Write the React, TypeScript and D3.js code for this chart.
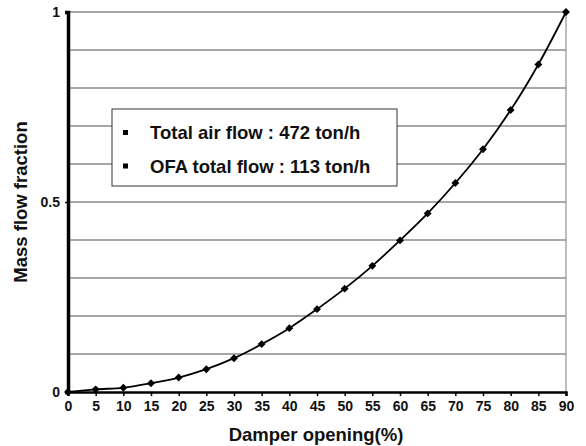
import React, { useEffect, useRef } from 'react'
import * as d3 from 'd3'

const openings = [0, 5, 10, 15, 20, 25, 30, 35, 40, 45, 50, 55, 60, 65, 70, 75, 80, 85, 90]
const fractions = [0, 0.007, 0.011, 0.023, 0.038, 0.06, 0.089, 0.126, 0.168, 0.218, 0.272, 0.332, 0.399, 0.47, 0.55, 0.639, 0.742, 0.862, 1.0]
const yTickLabels = [0, 0.5, 1]
const legendLines = ['Total air flow : 472 ton/h', 'OFA total flow : 113 ton/h']

const W = 586
const H = 446
const margin = { top: 12, right: 20, bottom: 54, left: 68 }
const font = 'Arial, "Liberation Sans", sans-serif'

export default function App() {
    const ref = useRef<SVGSVGElement>(null)

    useEffect(() => {
        const svg = d3.select(ref.current)
        svg.selectAll('*').remove()

        const x = d3.scaleLinear().domain([0, 90]).range([margin.left, W - margin.right])
        const y = d3.scaleLinear().domain([0, 1]).range([H - margin.bottom, margin.top])

        // horizontal grid every 0.1
        svg.append('g')
            .selectAll('line')
            .data(d3.range(1, 11).map(i => i / 10))
            .join('line')
            .attr('x1', x(0))
            .attr('x2', x(90))
            .attr('y1', d => y(d))
            .attr('y2', d => y(d))
            .attr('stroke', '#8a8a8a')
            .attr('stroke-width', 1.3)

        // right border
        svg.append('line')
            .attr('x1', x(90)).attr('x2', x(90))
            .attr('y1', y(1)).attr('y2', y(0))
            .attr('stroke', '#9a9a9a').attr('stroke-width', 1.3)

        // x axis
        const xAxis = d3.axisBottom(x).tickValues(openings).tickSize(4).tickPadding(5)
        const gx = svg.append('g').attr('transform', `translate(0,${y(0)})`).call(xAxis)
        gx.select('.domain').attr('stroke', '#000').attr('stroke-width', 2.5)
        gx.selectAll('.tick line').attr('stroke', '#000').attr('stroke-width', 1.5)
        gx.selectAll('.tick text')
            .attr('font-family', font).attr('font-size', 14).attr('font-weight', 'bold').attr('fill', '#111')

        // y axis
        const yAxis = d3.axisLeft(y).tickValues(yTickLabels).tickFormat(d3.format('')).tickSize(3).tickPadding(5)
        const gy = svg.append('g').attr('transform', `translate(${x(0)},0)`).call(yAxis)
        gy.select('.domain').attr('stroke', '#000').attr('stroke-width', 3.5)
        gy.selectAll('.tick line').attr('stroke', '#000').attr('stroke-width', 1.5)
        gy.selectAll('.tick text')
            .attr('font-family', font).attr('font-size', 14).attr('font-weight', 'bold').attr('fill', '#111')

        // curve
        const pts = openings.map((o, i) => [o, fractions[i]] as [number, number])
        const line = d3.line<[number, number]>()
            .x(d => x(d[0]))
            .y(d => y(d[1]))
            .curve(d3.curveCatmullRom)
        svg.append('path')
            .datum(pts)
            .attr('d', line)
            .attr('fill', 'none')
            .attr('stroke', '#000')
            .attr('stroke-width', 1.8)

        svg.append('g')
            .selectAll('path')
            .data(pts)
            .join('path')
            .attr('d', d3.symbol(d3.symbolDiamond2, 40)())
            .attr('transform', d => `translate(${x(d[0])},${y(d[1])})`)
            .attr('fill', '#000')

        // legend box
        const lg = svg.append('g')
        lg.append('rect')
            .attr('x', 112).attr('y', 109).attr('width', 285).attr('height', 77)
            .attr('fill', '#fff').attr('stroke', '#333').attr('stroke-width', 1)
        legendLines.forEach((t, i) => {
            const base = 139 + i * 33.5
            lg.append('rect')
                .attr('x', 123).attr('y', base - 9).attr('width', 5).attr('height', 5)
                .attr('fill', '#000')
            lg.append('text')
                .attr('x', 150).attr('y', base)
                .attr('font-family', font).attr('font-size', 18.5).attr('font-weight', 'bold')
                .attr('fill', '#111')
                .text(t)
        })

        // axis titles
        svg.append('text')
            .attr('x', 316).attr('y', 441)
            .attr('text-anchor', 'middle')
            .attr('font-family', font).attr('font-size', 18.5).attr('font-weight', 'bold').attr('fill', '#111')
            .text('Damper opening(%)')

        svg.append('text')
            .attr('transform', `translate(27,${202}) rotate(-90)`)
            .attr('text-anchor', 'middle')
            .attr('font-family', font).attr('font-size', 18.5).attr('font-weight', 'bold').attr('fill', '#111')
            .text('Mass flow fraction')
    }, [])

    return (
        <svg ref={ref} width={W} height={H}
            style={{ position: 'absolute', left: 0, top: 0, background: '#fff' }} />
    )
}
